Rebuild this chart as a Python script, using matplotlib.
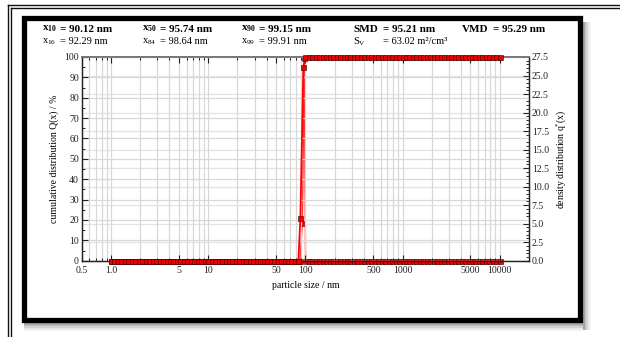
import matplotlib
matplotlib.use("Agg")
import matplotlib.pyplot as plt
from matplotlib.ticker import FixedLocator, MultipleLocator, LogLocator, NullFormatter, FormatStrFormatter
from matplotlib.patches import Rectangle
from matplotlib.lines import Line2D

plt.rcParams['font.family'] = ['Liberation Serif', 'DejaVu Serif']
plt.rcParams['mathtext.fontset'] = 'custom'
plt.rcParams['mathtext.rm'] = 'Liberation Serif'
plt.rcParams['mathtext.it'] = 'Liberation Serif:italic'
plt.rcParams['mathtext.bf'] = 'Liberation Serif:bold'

# ---- data ----
size_base = [1.000, 1.086, 1.179, 1.280, 1.389, 1.509, 1.638, 1.778, 1.931, 2.096,
             2.276, 2.471, 2.683, 2.913, 3.162, 3.433, 3.728, 4.048, 4.394, 4.771,
             5.180, 5.625, 6.107, 6.631, 7.197, 7.815, 8.483, 9.211]
low_sizes = [b * m for m in (1, 10) for b in size_base][:-1]
high_sizes = [b * m for m in (100, 1000) for b in size_base][1:] + [10000.0]

cum_ramp_x = [88.9, 95.4, 100.0]
cum_ramp_q = [21.0, 95.0, 100.0]
dens_spike_x = [88.0, 93.2, 97.5, 100.5]
dens_spike_q = [0.0, 5.1, 27.3, 0.0]

cum_x = low_sizes + cum_ramp_x + high_sizes
cum_q = [0.0] * len(low_sizes) + cum_ramp_q + [100.0] * len(high_sizes)
dens_x = low_sizes + dens_spike_x + high_sizes
dens_q = [0.0] * len(low_sizes) + dens_spike_q + [0.0] * len(high_sizes)

xtick_vals = [0.5, 1, 5, 10, 50, 100, 500, 1000, 5000, 10000]
xtick_labels = ['0.5', '1.0', '5', '10', '50', '100', '500', '1000', '5000', '10000']

header_row1 = [(r'x$_{\mathbf{10}}$', '= 90.12 nm'), (r'x$_{\mathbf{50}}$', '= 95.74 nm'),
               (r'x$_{\mathbf{90}}$', '= 99.15 nm'), ('SMD', '= 95.21 nm'), ('VMD', '= 95.29 nm')]
header_row2 = [(r'x$_{16}$', '= 92.29 nm'), (r'x$_{84}$', '= 98.64 nm'),
               (r'x$_{99}$', '= 99.91 nm'), (r'S$_{\rm V}$', '= 63.02 m²/cm³')]

W, H = 620, 337
fig = plt.figure(figsize=(W / 100, H / 100), dpi=100)

def fx(x):
    return x / W

def fy(y):
    return 1 - y / H

# ---- frames ----
for lx in (7.5, 10.5):
    fig.add_artist(Line2D([fx(lx), fx(lx)], [fy(lx - 3), fy(H)], color='#111111', lw=1.0))
for ly in (4.5, 7.5):
    fig.add_artist(Line2D([fx(ly + 3), fx(W)], [fy(ly), fy(ly)], color='#111111', lw=1.0))

# shadow of inner box
for i, a in enumerate([0.35, 0.25, 0.17, 0.10, 0.05]):
    fig.add_artist(Rectangle((fx(583 + i * 1.5), fy(330)), 1.5 / W, (330 - 22) / H,
                             facecolor='black', alpha=a, edgecolor='none'))
    fig.add_artist(Rectangle((fx(24), fy(323 + (i + 1) * 1.5)), (583 - 24) / W, 1.5 / H,
                             facecolor='black', alpha=a, edgecolor='none'))
fig.add_artist(Rectangle((fx(24.5), fy(320)), (580 - 24.5) / W, (320 - 17.5) / H,
                         facecolor='none', edgecolor='black', lw=3.8))

# ---- axes ----
L, R, T, B = 81.7, 529, 57, 260.7
ax = fig.add_axes([fx(L), fy(B), (R - L) / W, (B - T) / H])
ax2 = ax.twinx()

ax.set_xscale('log')
ax.set_xlim(0.5, 20000)
ax.set_ylim(0, 100)
ax2.set_ylim(0, 27.5)

ax.xaxis.set_major_locator(FixedLocator(xtick_vals))
ax.set_xticklabels(xtick_labels)
ax.xaxis.set_minor_locator(LogLocator(base=10, subs=[1, 2, 3, 4, 5, 6, 7, 8, 9], numticks=20))
ax.xaxis.set_minor_formatter(NullFormatter())
ax.yaxis.set_major_locator(MultipleLocator(10))
ax.yaxis.set_minor_locator(MultipleLocator(5))
ax2.yaxis.set_major_locator(MultipleLocator(2.5))
ax2.yaxis.set_minor_locator(MultipleLocator(0.5))
ax2.yaxis.set_major_formatter(FormatStrFormatter('%.1f'))

ax.grid(True, which='both', axis='x', color='#d8d8d8', lw=0.9, zorder=0)
ax.grid(True, which='major', axis='y', color='#d8d8d8', lw=0.9, zorder=0)
ax2.grid(True, which='major', axis='y', color='#e4e4e4', lw=0.9, zorder=0)

ax.tick_params(axis='x', which='major', pad=4)
ax.tick_params(axis='both', which='major', direction='in', length=4, width=0.8,
               labelsize=7, colors='#222222', top=True)
ax.tick_params(axis='y', which='major', pad=2)
ax.tick_params(axis='both', which='minor', direction='in', length=2.5, width=0.6, top=True)
ax2.tick_params(axis='y', which='major', direction='in', length=4, width=0.8,
                labelsize=7, colors='#222222', pad=2)
ax2.tick_params(axis='y', which='minor', direction='in', length=2.5, width=0.6)

for a in (ax, ax2):
    for s in a.spines.values():
        s.set_linewidth(0.9)
        s.set_color('#222222')
    a.spines['top'].set_color('#777777')
    a.spines['top'].set_linewidth(1.3)

ax2.plot(dens_x, dens_q, color='#ff2a2a', lw=1.0, marker='s', ms=3.6,
         mfc='#ee0000', mec='#330000', mew=0.4, clip_on=False, zorder=3)
ax.set_zorder(ax2.get_zorder() + 1)
ax.patch.set_visible(False)
ax.plot(cum_x, cum_q, color='#ff0000', lw=1.3, marker='s', ms=3.6,
        mfc='#ee0000', mec='#330000', mew=0.4, clip_on=False, zorder=4)

ax.set_ylabel('cumulative distribution Q(x) / %', fontsize=7, labelpad=4)
ax2.set_ylabel(r'density distribution q$^{*}$(x)', fontsize=7, labelpad=4)
ax.set_xlabel('particle size / nm', fontsize=7, labelpad=4)

# ---- header ----
cols = [(41.7, 60), (141.7, 160), (240.7, 259), (353, 383), (462, 493)]
for (lbl, val), (x1, x2) in zip(header_row1, cols):
    fig.text(fx(x1), fy(29), lbl, fontsize=8, fontweight='bold', va='center', ha='left')
    fig.text(fx(x2), fy(29), val, fontsize=8, fontweight='bold', va='center', ha='left')
for (lbl, val), (x1, x2) in zip(header_row2, cols):
    fig.text(fx(x1), fy(41.5), lbl, fontsize=7.5, va='center', ha='left')
    fig.text(fx(x2), fy(41.5), val, fontsize=7.5, va='center', ha='left')

fig.savefig('out.png', dpi=100)
